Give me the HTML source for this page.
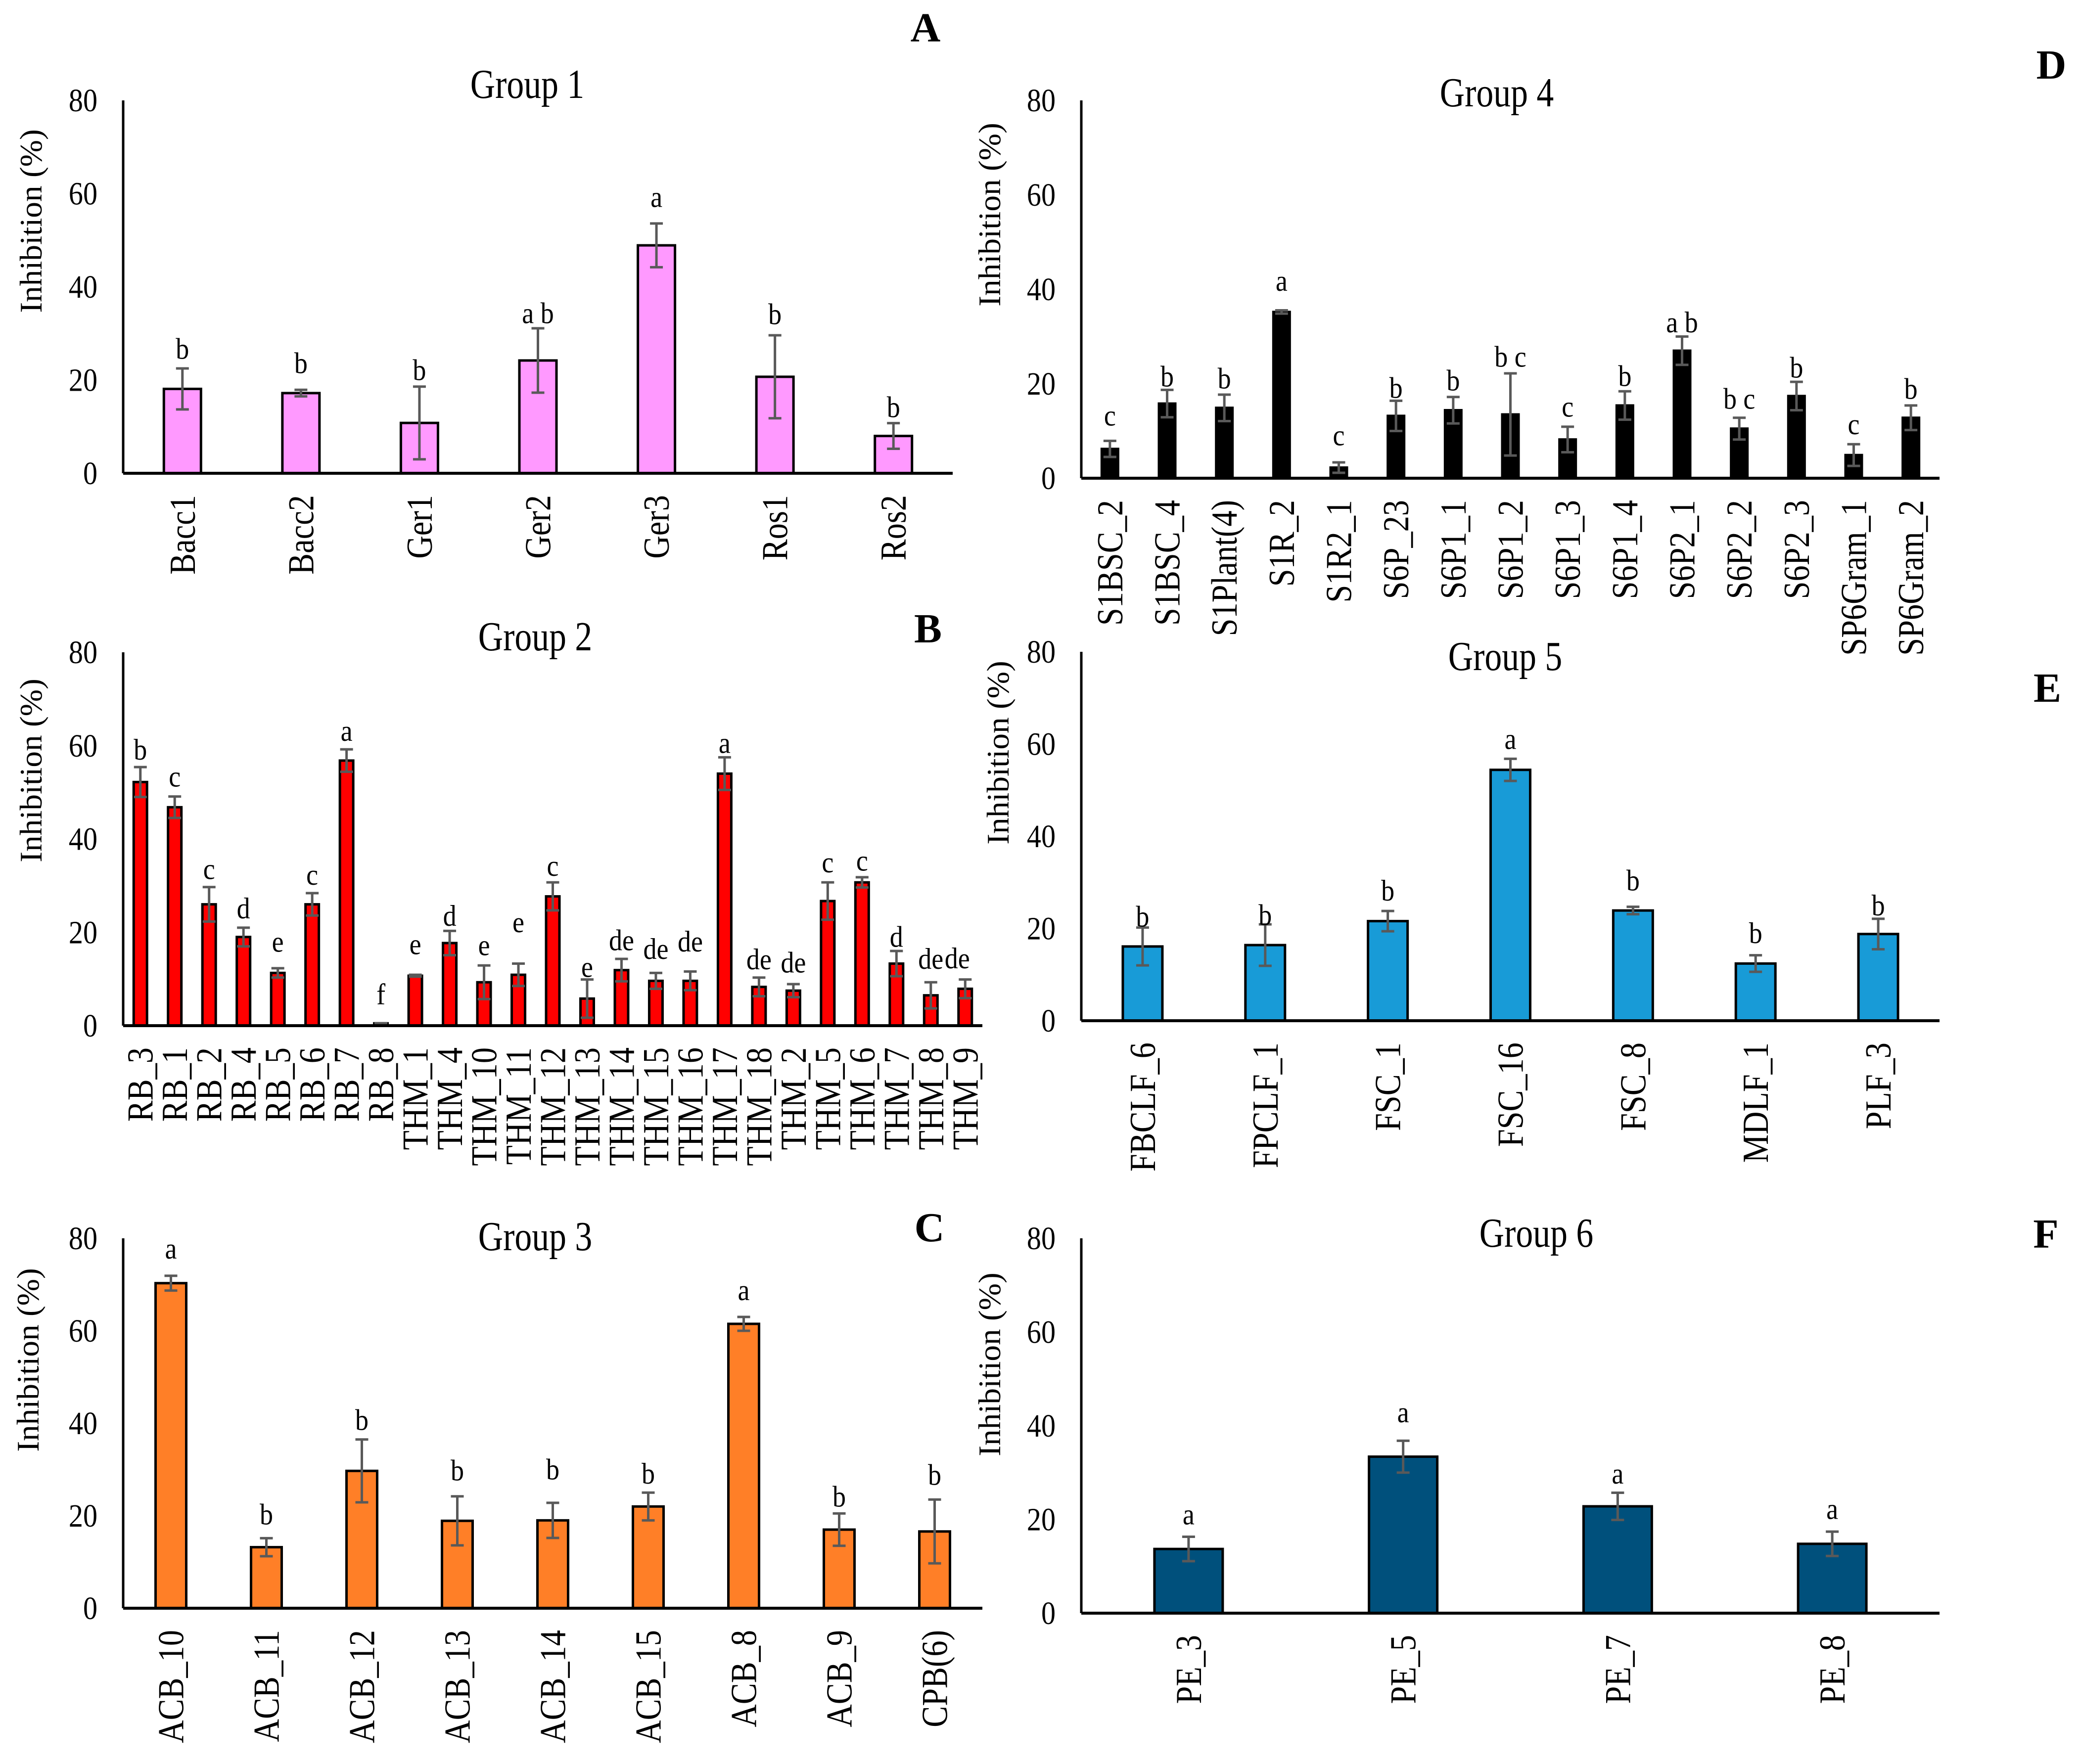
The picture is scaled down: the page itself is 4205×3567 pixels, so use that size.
<!DOCTYPE html>
<html lang="en">
<head>
<meta charset="utf-8">
<title>Inhibition (%) by isolate groups</title>
<style>
html,body{margin:0;padding:0;background:#fff}
svg{display:block}
text{font-family:"Liberation Serif","Times New Roman",serif;fill:#000}
</style>
</head>
<body>
<svg id="figure" xmlns="http://www.w3.org/2000/svg" width="4205" height="3567" viewBox="0 0 4205 3567"></svg>
<script>
const yTickLabels = [0, 20, 40, 60, 80];

const g1Categories = ["Bacc1","Bacc2","Ger1","Ger2","Ger3","Ros1","Ros2"];
const g1Values = [18.1,17.2,10.8,24.2,48.9,20.7,8.0];
const g1Errors = [4.4,0.7,7.8,6.9,4.7,8.9,2.75];
const g1Letters = ["b","b","b","a b","a","b","b"];
const g1LetterGaps = [4.2,5.7,3.5,3.2,4.9,4.5,3.4];

const g2Categories = ["RB_3","RB_1","RB_2","RB_4","RB_5","RB_6","RB_7","RB_8","THM_1","THM_4","THM_10","THM_11","THM_12","THM_13","THM_14","THM_15","THM_16","THM_17","THM_18","THM_2","THM_5","THM_6","THM_7","THM_8","THM_9"];
const g2Values = [52.2,46.8,26,19,11.3,26,56.8,0.5,10.7,17.7,9.3,10.9,27.7,5.8,11.9,9.6,9.6,54,8.3,7.5,26.7,30.7,13.3,6.5,7.9];
const g2Errors = [3.2,2.3,3.7,2,1,2.4,2.4,0,0.2,2.6,3.6,2.4,3,4.1,2.4,1.7,2,3.5,2,1.4,4,1.1,2.7,2.8,2];
const g2Letters = ["b","c","c","d","e","c","a","f","e","d","e","e","c","e","de","de","de","a","de","de","c","c","d","de","de"];
const g2LetterGaps = [3.7,3.5,3.1,4.1,4.9,3.2,3.2,6.2,5.8,3.2,3.6,8.1,2.8,1.9,4,5.1,6.4,2.3,3.9,4.6,3.5,2.8,3,5,4.5];

const g3Categories = ["ACB_10","ACB_11","ACB_12","ACB_13","ACB_14","ACB_15","ACB_8","ACB_9","CPB(6)"];
const g3Values = [70.3,13.2,29.7,18.9,19,22,61.5,17,16.6];
const g3Errors = [1.6,1.95,6.8,5.3,3.8,3,1.5,3.5,6.9];
const g3Letters = ["a","b","b","b","b","b","a","b","b"];
const g3LetterGaps = [5.1,5.1,4.2,5.6,7.2,4.1,5,3.6,5.3];

const g4Categories = ["S1BSC_2","S1BSC_4","S1Plant(4)","S1R_2","S1R2_1","S6P_23","S6P1_1","S6P1_2","S6P1_3","S6P1_4","S6P2_1","S6P2_2","S6P2_3","SP6Gram_1","SP6Gram_2"];
const g4Values = [6.2,15.8,14.9,35.2,2.25,13.2,14.4,13.5,8.2,15.4,27,10.5,17.4,4.9,12.8];
const g4Errors = [1.7,2.9,2.8,0.35,1.1,3.2,2.8,8.7,2.7,3,3,2.3,3,2.3,2.6];
const g4Letters = ["c","b","b","a","c","b","b","b c","c","b","a b","b c","b","c","b"];
const g4LetterGaps = [4.6,2.8,3.4,5.5,5,2.7,3.5,3.5,3.5,3.2,3,4,3,3.5,3.5];

const g5Categories = ["FBCLF_6","FPCLF_1","FSC_1","FSC_16","FSC_8","MDLF_1","PLF_3"];
const g5Values = [16.1,16.4,21.6,54.4,23.9,12.4,18.8];
const g5Errors = [4.1,4.5,2.2,2.4,0.8,1.8,3.3];
const g5Letters = ["b","b","b","a","b","b","b"];
const g5LetterGaps = [2.4,2,4.4,3.5,5.7,4.8,2.9];

const g6Categories = ["PE_3","PE_5","PE_7","PE_8"];
const g6Values = [13.7,33.4,22.8,14.8];
const g6Errors = [2.6,3.4,2.9,2.6];
const g6Letters = ["a","a","a","a"];
const g6LetterGaps = [4,5.3,3.3,4.1];

const SVG_NS = "http://www.w3.org/2000/svg";
const figure = document.getElementById("figure");

function makeText(parent, str, x, y, size, scaleX, rotation, anchor) {
  const t = document.createElementNS(SVG_NS, "text");
  t.textContent = str;
  t.setAttribute("transform", "translate(" + x + "," + y + ") rotate(" + rotation + ") scale(" + scaleX + ",1)");
  t.setAttribute("font-size", size);
  t.setAttribute("text-anchor", anchor);
  parent.appendChild(t);
  return t;
}

function makeLine(parent, x1, y1, x2, y2, color, width) {
  const l = document.createElementNS(SVG_NS, "line");
  l.setAttribute("x1", x1);
  l.setAttribute("y1", y1);
  l.setAttribute("x2", x2);
  l.setAttribute("y2", y2);
  l.setAttribute("stroke", color);
  l.setAttribute("stroke-width", width);
  parent.appendChild(l);
  return l;
}

function drawChart(opts) {
  const g = document.createElementNS(SVG_NS, "g");
  
  
  figure.appendChild(g);

  const yScale = function (v) { return opts.baseY - (v / 80) * (opts.baseY - opts.topY); };
  const slot = (opts.endX - opts.axisX) / opts.categories.length;
  const xScale = function (i) { return opts.axisX + slot * (i + 0.5); };

  yTickLabels.forEach(function (tick) {
    const t = makeText(g, String(tick), opts.axisX - 52, yScale(tick) + 22, 66, 0.88, 0, "end");
    
    
  });

  opts.categories.forEach(function (cat, i) {
    const cx = xScale(i);
    const top = yScale(opts.values[i]);

    const bar = document.createElementNS(SVG_NS, "rect");
    bar.setAttribute("x", cx - opts.barWidth / 2);
    bar.setAttribute("y", top);
    bar.setAttribute("width", opts.barWidth);
    bar.setAttribute("height", opts.baseY - top);
    bar.setAttribute("fill", opts.color);
    bar.setAttribute("stroke", "#000");
    bar.setAttribute("stroke-width", 5);
    
    
    g.appendChild(bar);

    const hi = yScale(opts.values[i] + opts.errors[i]);
    const lo = yScale(opts.values[i] - opts.errors[i]);
    const stem = makeLine(g, cx, hi, cx, lo, "#595959", 5);
    
    
    const capTop = makeLine(g, cx - 13, hi, cx + 13, hi, "#595959", 5);
    
    
    const capBottom = makeLine(g, cx - 13, lo, cx + 13, lo, "#595959", 5);
    
    

    const letter = opts.letters[i];
    const center = yScale(opts.values[i] + opts.errors[i] + opts.letterGaps[i]);
    const tall = /[bdf]/.test(letter);
    const letterShift = (opts.letterShiftLast && i === opts.categories.length - 1) ? opts.letterShiftLast : 0;
    const lt = makeText(g, letter, cx + letterShift, center + (tall ? 20 : 13), 60, 0.9, 0, "middle");
    
    

    const xl = makeText(g, cat, cx + 25, opts.baseY + 44, 74, 0.87, -90, "end");
    
    
  });

  const yAxis = makeLine(g, opts.axisX, opts.topY, opts.axisX, opts.baseY, "#000", 5);
  
  
  const xAxis = makeLine(g, opts.axisX, opts.baseY, opts.endX, opts.baseY, "#000", 6);
  
  

  const yTitle = makeText(g, "Inhibition (%)", opts.yTitleX, opts.yTitleY, 64, 1.02, -90, "middle");
  
  

  const title = makeText(g, opts.title, opts.titleX, opts.titleY, 84, 0.83, 0, "middle");
  
  

  const panel = makeText(g, opts.panel, opts.panelX, opts.panelY, 84, 1, 0, "middle");
  panel.setAttribute("font-weight", "bold");
  
  
}

drawChart({name:"chart-group-1", title:"Group 1", panel:"A", categories:g1Categories, values:g1Values, errors:g1Errors, letters:g1Letters, letterGaps:g1LetterGaps,
  color:"#FF99FF", axisX:249, endX:1926, topY:203, baseY:957, barWidth:75, yTitleX:84, yTitleY:447, titleX:1066, titleY:198, panelX:1871, panelY:84});
drawChart({name:"chart-group-2", title:"Group 2", panel:"B", categories:g2Categories, values:g2Values, errors:g2Errors, letters:g2Letters, letterGaps:g2LetterGaps, letterShiftLast:-16,
  color:"#FF0000", axisX:249, endX:1986, topY:1319, baseY:2074, barWidth:27, yTitleX:84, yTitleY:1558, titleX:1082, titleY:1315, panelX:1876, panelY:1299});
drawChart({name:"chart-group-3", title:"Group 3", panel:"C", categories:g3Categories, values:g3Values, errors:g3Errors, letters:g3Letters, letterGaps:g3LetterGaps,
  color:"#FF7F27", axisX:249, endX:1986, topY:2504, baseY:3252, barWidth:62, yTitleX:78, yTitleY:2750, titleX:1082, titleY:2528, panelX:1879, panelY:2510});
drawChart({name:"chart-group-4", title:"Group 4", panel:"D", categories:g4Categories, values:g4Values, errors:g4Errors, letters:g4Letters, letterGaps:g4LetterGaps,
  color:"#000000", axisX:2186, endX:3921, topY:203, baseY:967, barWidth:33, yTitleX:2022, yTitleY:434, titleX:3026, titleY:215, panelX:4147, panelY:159});
drawChart({name:"chart-group-5", title:"Group 5", panel:"E", categories:g5Categories, values:g5Values, errors:g5Errors, letters:g5Letters, letterGaps:g5LetterGaps,
  color:"#189BD7", axisX:2186, endX:3921, topY:1318, baseY:2064, barWidth:80, yTitleX:2039, yTitleY:1522, titleX:3043, titleY:1355, panelX:4139, panelY:1419});
drawChart({name:"chart-group-6", title:"Group 6", panel:"F", categories:g6Categories, values:g6Values, errors:g6Errors, letters:g6Letters, letterGaps:g6LetterGaps,
  color:"#00507C", axisX:2186, endX:3921, topY:2504, baseY:3262, barWidth:138, yTitleX:2022, yTitleY:2759, titleX:3106, titleY:2521, panelX:4136, panelY:2523});
</script>
</body>
</html>
